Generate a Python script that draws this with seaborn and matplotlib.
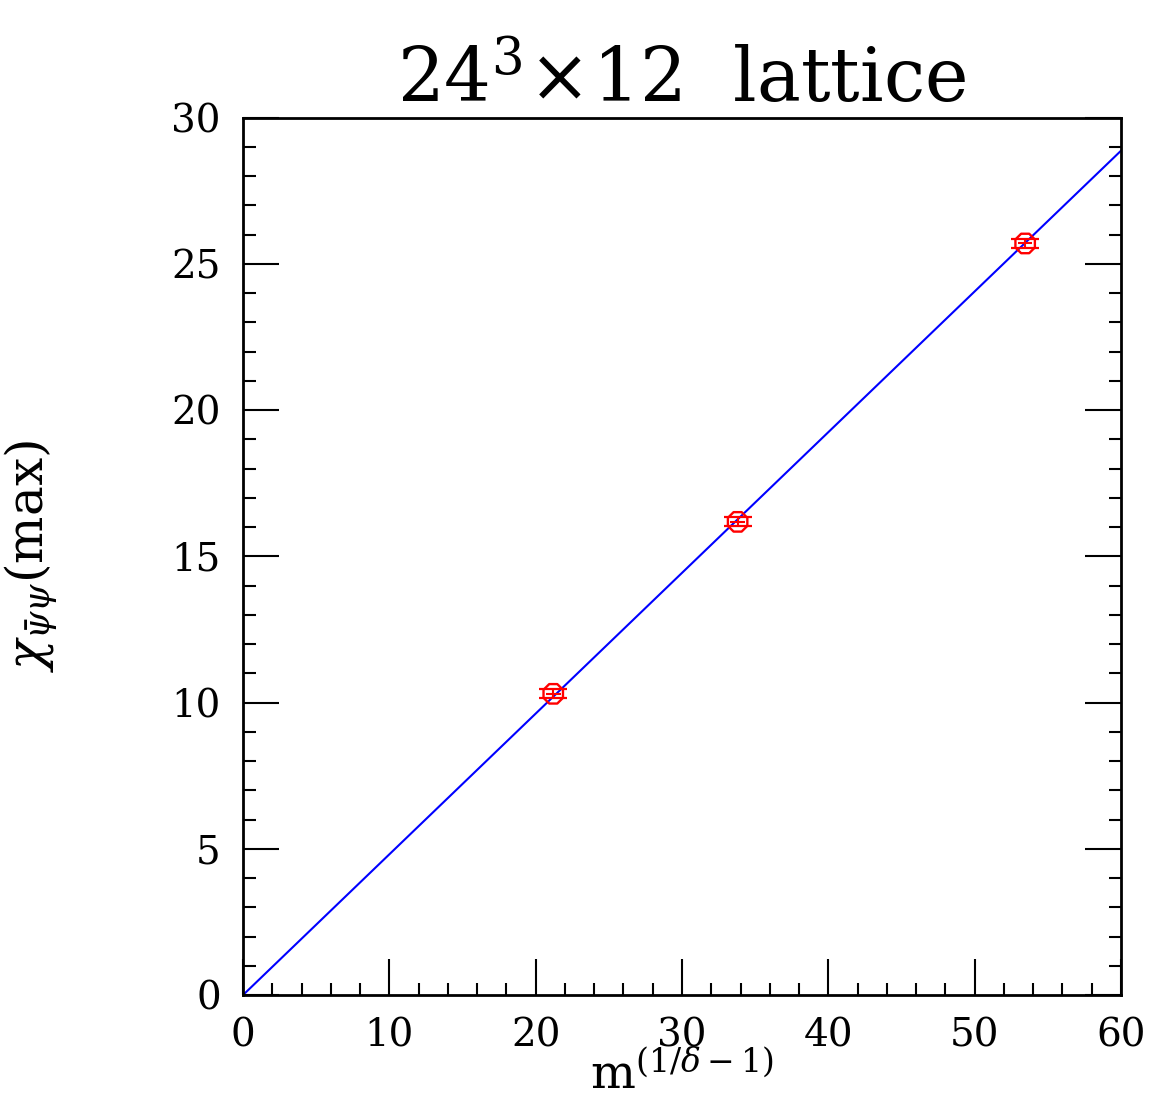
import matplotlib
matplotlib.use('Agg')
import matplotlib.pyplot as plt
import seaborn as sns
import pandas as pd
from matplotlib.ticker import MultipleLocator

# data
m_power = [21.2, 33.8, 53.45]
chi_max = [10.3, 16.18, 25.7]
chi_err = [0.15, 0.15, 0.15]
m_err = [0.5, 0.5, 0.5]
fit_x = [0.0, 60.0]
fit_slope = 0.4812

df = pd.DataFrame({'m': m_power, 'chi': chi_max})
fit = pd.DataFrame({'m': fit_x, 'chi': [fit_slope * v for v in fit_x]})

sns.set_theme(style='ticks')
plt.rcParams['font.family'] = ['DejaVu Serif']
plt.rcParams['mathtext.fontset'] = 'dejavuserif'
plt.rcParams['text.color'] = 'black'
plt.rcParams['axes.labelcolor'] = 'black'

fig = plt.figure(figsize=(11.54, 11.18), dpi=100)
ax = fig.add_axes([0.2106, 0.110, 0.7608, 0.7847])

sns.lineplot(data=fit, x='m', y='chi', color='blue', linewidth=1.5, ax=ax)
ax.errorbar(df['m'], df['chi'], yerr=chi_err, xerr=m_err, fmt='none',
            ecolor='red', elinewidth=1.5, capsize=0)
ax.errorbar(df['m'], df['chi'], yerr=chi_err, fmt='none', ecolor='red',
            elinewidth=0, capsize=10, capthick=1.6)
sns.scatterplot(data=df, x='m', y='chi', marker='8', s=230,
                facecolor='none', edgecolor='red', linewidth=1.7, ax=ax, zorder=5)

ax.set_xlim(0, 60)
ax.set_ylim(0, 30)
ax.xaxis.set_major_locator(MultipleLocator(10))
ax.xaxis.set_minor_locator(MultipleLocator(2))
ax.yaxis.set_major_locator(MultipleLocator(5))
ax.yaxis.set_minor_locator(MultipleLocator(1))
ax.tick_params(which='both', direction='in', top=False, right=True,
               width=1.5, colors='black', labelsize=28, pad=16)
ax.tick_params(which='major', length=26)
ax.tick_params(which='minor', length=9)
for s in ax.spines.values():
    s.set_linewidth(2)
    s.set_color('black')

ax.set_title(r'$\mathregular{24^3\!\times\!12}$  lattice', fontsize=53, pad=10)
ax.set_xlabel(r'm$^{(1/\delta-1)}$', fontsize=34, labelpad=-2)
ax.set_ylabel(r'$\chi_{\bar\psi\psi}$(max)', fontsize=36, labelpad=80)

fig.savefig('out.png', dpi=100)
